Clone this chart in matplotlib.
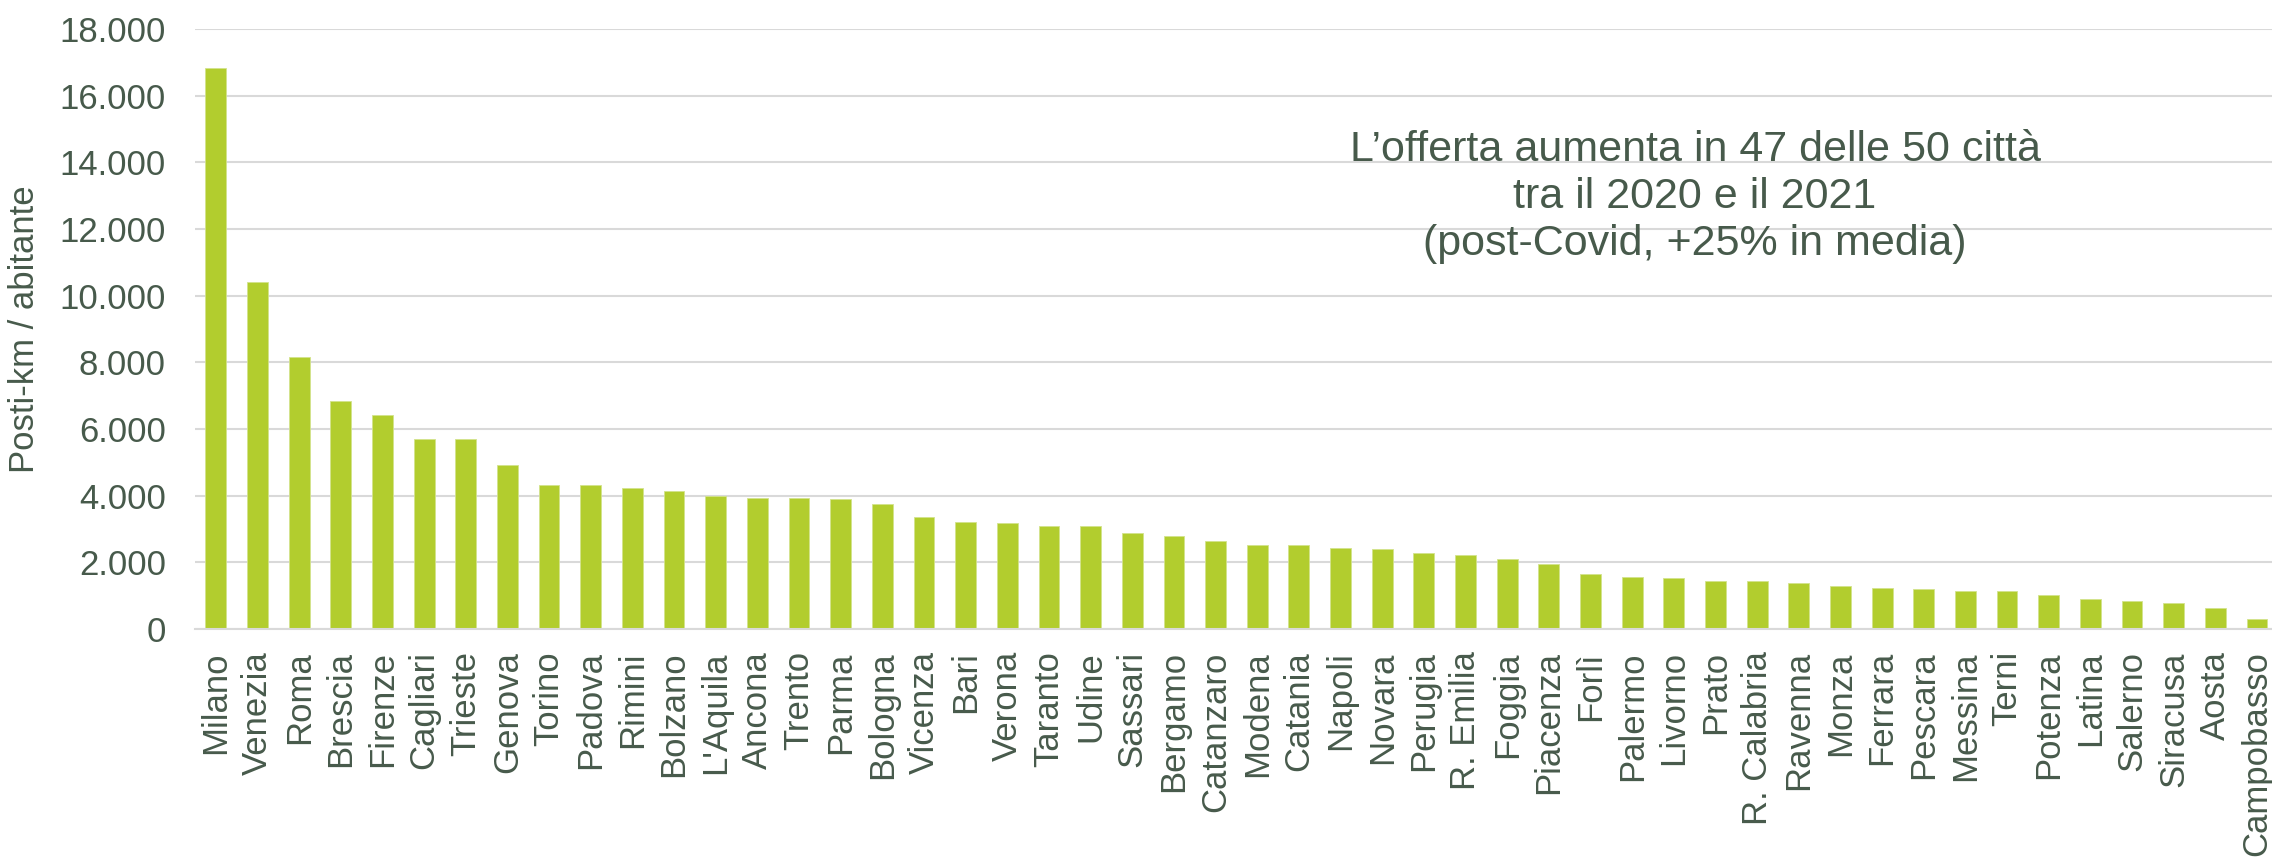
import matplotlib.pyplot as plt
from matplotlib.ticker import FuncFormatter

cities = ['Milano', 'Venezia', 'Roma', 'Brescia', 'Firenze', 'Cagliari', 'Trieste', 'Genova',
          'Torino', 'Padova', 'Rimini', 'Bolzano', "L'Aquila", 'Ancona', 'Trento', 'Parma',
          'Bologna', 'Vicenza', 'Bari', 'Verona', 'Taranto', 'Udine', 'Sassari', 'Bergamo',
          'Catanzaro', 'Modena', 'Catania', 'Napoli', 'Novara', 'Perugia', 'R. Emilia', 'Foggia',
          'Piacenza', 'Forlì', 'Palermo', 'Livorno', 'Prato', 'R. Calabria', 'Ravenna', 'Monza',
          'Ferrara', 'Pescara', 'Messina', 'Terni', 'Potenza', 'Latina', 'Salerno', 'Siracusa',
          'Aosta', 'Campobasso']
posti_km = [16840, 10410, 8160, 6830, 6420, 5700, 5690, 4915,
            4320, 4320, 4230, 4155, 3995, 3930, 3930, 3910,
            3740, 3370, 3220, 3180, 3100, 3090, 2870, 2790,
            2630, 2520, 2520, 2420, 2400, 2290, 2210, 2110,
            1940, 1660, 1560, 1530, 1450, 1450, 1390, 1280,
            1220, 1200, 1150, 1140, 1010, 890, 830, 770,
            640, 310]
y_ticks = [0, 2000, 4000, 6000, 8000, 10000, 12000, 14000, 16000, 18000]
note = "L\u2019offerta aumenta in 47 delle 50 città\ntra il 2020 e il 2021\n(post-Covid, +25% in media)"

text_color = '#475a4b'
bar_color = '#b2cd2e'
grid_color = '#d9d9d9'

plt.rcParams['font.family'] = ['Liberation Sans', 'DejaVu Sans']

W, H = 2272, 864
fig = plt.figure(figsize=(W / 100, H / 100), dpi=100)
ax = fig.add_axes([195 / W, (H - 629) / H, (W - 195) / W, 600 / H])

x = range(len(cities))
ax.bar(x, posti_km, width=0.5, color=bar_color, edgecolor='#d3e38c', linewidth=0.6, zorder=3)

ax.set_xlim(-0.5, 49.36)
ax.set_ylim(0, 18000)
ax.set_yticks(y_ticks)
ax.yaxis.set_major_formatter(FuncFormatter(lambda v, p: f'{int(v):,}'.replace(',', '.')))
ax.set_xticks(list(x))
ax.set_xticklabels(cities, rotation=90, va='top', ha='center')

ax.grid(axis='y', color=grid_color, linewidth=1.5, zorder=0)
for side in ['top', 'right', 'left']:
    ax.spines[side].set_visible(False)
ax.spines['bottom'].set_color(grid_color)
ax.spines['bottom'].set_linewidth(1.5)
ax.spines['bottom'].set_zorder(4)

ax.tick_params(axis='both', length=0, labelsize=25, labelcolor=text_color)
ax.tick_params(axis='y', pad=21)
ax.tick_params(axis='x', pad=16)

# y label placed by hand, close to the left edge like in the original
fig.text(25 / W, (H - 329) / H, 'Posti-km / abitante', fontsize=25, color=text_color,
         rotation=90, ha='center', va='center')

fig.text(1695 / W, (H - 197) / H, note, fontsize=31, color=text_color,
         ha='center', va='center', linespacing=1.23)

fig.savefig('out.png', dpi=100)
